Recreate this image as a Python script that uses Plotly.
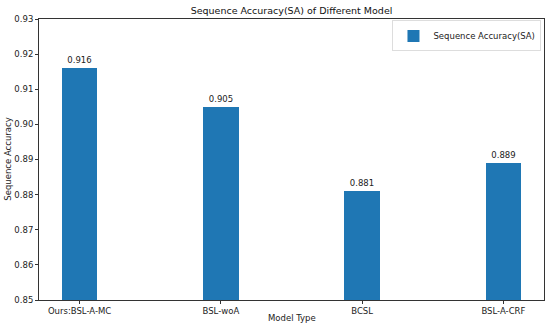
import plotly.graph_objects as go

models = ["Ours:BSL-A-MC", "BSL-woA", "BCSL", "BSL-A-CRF"]
accuracy = [0.916, 0.905, 0.881, 0.889]
y_ticks = [0.85, 0.86, 0.87, 0.88, 0.89, 0.90, 0.91, 0.92, 0.93]
y_tick_text = ["0.85", "0.86", "0.87", "0.88", "0.89", "0.90", "0.91", "0.92", "0.93"]

font = "DejaVu Sans"
x_idx = list(range(len(models)))

fig = go.Figure()
fig.add_trace(go.Bar(
    x=x_idx, y=accuracy, width=0.25,
    marker=dict(color="#1f77b4", line=dict(width=0)),
    name="Sequence Accuracy(SA)",
    text=[f"{v:.3f}" for v in accuracy],
    textposition="outside", textfont=dict(family=font, size=8.5, color="#222"),
    cliponaxis=False,
))
fig.update_layout(
    width=550, height=328,
    margin=dict(l=39, r=6, t=19, b=28, autoexpand=False),
    paper_bgcolor="white", plot_bgcolor="white",
    font=dict(family=font, size=8.5, color="#222"),
    title=dict(text="Sequence Accuracy(SA) of Different Model", x=0.53, xanchor="center",
               y=0.968, yanchor="middle", font=dict(family=font, size=9.5, color="#111")),
    showlegend=True,
    legend=dict(x=0.995, y=0.995, xanchor="right", yanchor="top",
                bordercolor="#ddd", borderwidth=1, bgcolor="white",
                itemwidth=30, tracegroupgap=0,
                font=dict(family=font, size=8.5)),
    bargap=0,
    annotations=[
        dict(text="Model Type", xref="paper", yref="paper", x=0.5, y=-0.064,
             xanchor="center", yanchor="middle", showarrow=False,
             font=dict(family=font, size=8.5, color="#222")),
        dict(text="Sequence Accuracy", xref="paper", yref="paper", x=-0.063, y=0.5,
             xanchor="center", yanchor="middle", showarrow=False, textangle=-90,
             font=dict(family=font, size=8.5, color="#222")),
    ],
)
fig.update_xaxes(
    range=[-0.2875, 3.2875], tickvals=x_idx, ticktext=models, automargin=False,
    showline=True, linecolor="#333", linewidth=1, mirror=True,
    ticks="outside", ticklen=3, tickcolor="#333", showgrid=False, zeroline=False,
    tickfont=dict(family=font, size=8.5),
)
fig.update_yaxes(
    range=[0.85, 0.93], tickvals=y_ticks, ticktext=y_tick_text, automargin=False,
    showline=True, linecolor="#333", linewidth=1, mirror=True,
    ticks="outside", ticklen=3, tickcolor="#333", showgrid=False, zeroline=False,
    tickfont=dict(family=font, size=8.5),
)
fig.write_html("out.html", config={"displayModeBar": False},
               post_script="document.body.style.margin='0';")
